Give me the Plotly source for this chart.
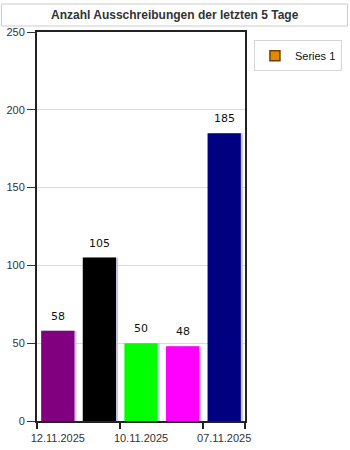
import plotly.graph_objects as go

categories = ["12.11.2025", "11.11.2025", "10.11.2025", "09.11.2025", "07.11.2025"]
values = [58, 105, 50, 48, 185]
colors = ["#800080", "#000000", "#00FF00", "#FF00FF", "#000080"]
series_name = "Series 1"
legend_color = "#E08A00"
title = "Anzahl Ausschreibungen der letzten 5 Tage"
y_ticks = [0, 50, 100, 150, 200, 250]

xpos = [i + 0.5 for i in range(len(categories))]

fig = go.Figure()
# subtle shadow on the right edge of each bar
fig.add_trace(go.Bar(x=xpos, y=values, width=0.8, offset=-0.35,
                     marker=dict(color="#c9c6ec", line=dict(width=0)),
                     showlegend=False, hoverinfo="skip"))
fig.add_trace(go.Bar(x=xpos, y=values, width=0.8, offset=-0.4,
                     marker=dict(color=colors, line=dict(width=0)),
                     showlegend=False))
fig.add_trace(go.Scatter(x=[None], y=[None], mode="markers", name=series_name,
                         marker=dict(symbol="square", size=10, color=legend_color,
                                     line=dict(color="#6b4200", width=1.5))))

for x, v in zip(xpos, values):
    fig.add_annotation(x=x, y=v, text=str(v), showarrow=False, yanchor="bottom",
                       yshift=6, font=dict(family="DejaVu Sans", size=11, color="#111"))

# title box
fig.add_shape(type="rect", xref="paper", yref="paper",
              x0=-0.171, x1=1.493, y0=1.0154, y1=1.072,
              line=dict(color="#cccccc", width=1), fillcolor="white")
fig.add_annotation(xref="paper", yref="paper", x=0.663, y=1.0437, text="<b>" + title + "</b>",
                   showarrow=False, xanchor="center", yanchor="middle",
                   font=dict(family="Liberation Sans", size=12, color="#333"))

fig.update_layout(
    width=350, height=450,
    margin=dict(l=37, r=105, t=32, b=29, autoexpand=False),
    paper_bgcolor="white", plot_bgcolor="white",
    barmode="overlay",
    showlegend=True,
    legend=dict(x=1.043, y=0.979, xanchor="left", yanchor="top",
                bordercolor="#d5d5d5", borderwidth=1, bgcolor="white",
                font=dict(family="Liberation Sans", size=11, color="#111"),
                itemwidth=30),
    font=dict(family="Liberation Sans", size=11, color="#333"),
)
fig.update_xaxes(range=[0, len(categories)], tickmode="array",
                 tickvals=xpos[::2], ticktext=categories[::2], ticks="",
                 ticklabelstandoff=6,
                 showgrid=False, zeroline=False, automargin=False,
                 showline=True, linecolor="#222", linewidth=1.5, mirror=True,
                 minor=dict(tickmode="array", tickvals=[0, 2, 4, 5], ticks="outside",
                            ticklen=6, tickcolor="#222", tickwidth=1.5, showgrid=False),
                 tickfont=dict(family="Liberation Sans", size=11, color="#333"))
fig.update_yaxes(range=[0, 250], tickmode="array", tickvals=y_ticks,
                 ticks="outside", ticklen=8, tickcolor="#333", tickwidth=1,
                 showgrid=True, gridcolor="#d9d9d9", gridwidth=1, zeroline=False,
                 automargin=False,
                 showline=True, linecolor="#222", linewidth=2, mirror=True,
                 tickfont=dict(family="Liberation Sans", size=11, color="#333"))

fig.write_html("out.html")
